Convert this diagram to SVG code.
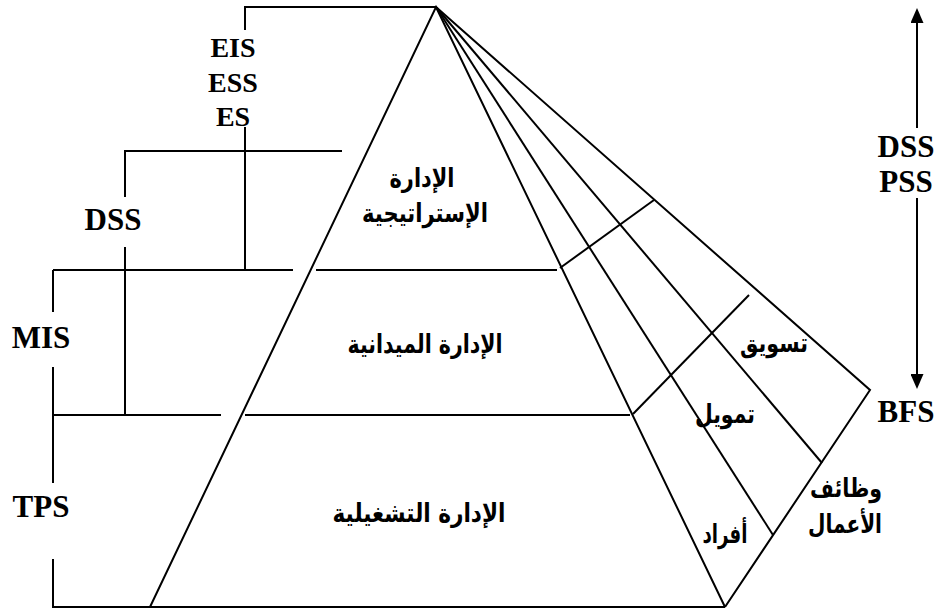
<svg xmlns="http://www.w3.org/2000/svg" width="935" height="610" viewBox="0 0 935 610">
  <style>
    .ln { fill: none; stroke: #000; stroke-width: 2; stroke-linecap: butt; stroke-linejoin: miter; }
    .en { font-family: "Liberation Serif", "Times New Roman", serif; font-weight: bold; font-size: 31px; fill: #000; text-anchor: middle; }
    .en.sm { font-size: 28px; }
    .ar { font-family: "DejaVu Sans", "Noto Sans", sans-serif; font-weight: bold; font-size: 26px; fill: #000; text-anchor: middle; direction: rtl; }
  </style>
  <defs>
    <marker id="head" viewBox="0 0 15 13" refX="0" refY="6.5" markerWidth="15" markerHeight="13" markerUnits="userSpaceOnUse" orient="auto">
      <path d="M0,0 L15,6.5 L0,13 z" fill="#000"/>
    </marker>
  </defs>

  <rect width="935" height="610" fill="#fff"/>

  <!-- connectors: brackets grouping the information systems by level -->
  <g id="connectors" class="ln">
    <path d="M245,30 V7 H436"/>
    <path d="M245,127 V270"/>
    <path d="M125,197 V151 H342"/>
    <path d="M125,247 V415"/>
    <path d="M53,270 H293 M316,270 H557"/>
    <path d="M53,415 H221 M245,415 H630"/>
    <path d="M53,270 V312 M53,367 V483 M53,559 V607 H725"/>
  </g>

  <!-- management pyramid -->
  <g id="pyramid" class="ln">
    <path d="M150,607 L436,7 L725,607"/>
  </g>

  <!-- business functions fanning out from the apex -->
  <g id="functions" class="ln">
    <path d="M436,7 L773,535"/>
    <path d="M436,7 L822,463"/>
    <path d="M436,7 L870,390 L725,607"/>
    <path d="M560,268 L654,200"/>
    <path d="M633,414 L749,295"/>
  </g>

  <!-- vertical axis DSS/PSS to BFS -->
  <g id="axis" class="ln">
    <path d="M917,128 V23" marker-end="url(#head)"/>
    <path d="M917,198 V374" marker-end="url(#head)"/>
  </g>

  <g id="level-strategic">
    <text class="ar" x="422" y="187" textLength="65" lengthAdjust="spacingAndGlyphs">الإدارة</text>
    <text class="ar" x="425" y="222" textLength="126" lengthAdjust="spacingAndGlyphs">الإستراتيجية</text>
  </g>
  <g id="level-tactical">
    <text class="ar" x="425" y="353" textLength="155" lengthAdjust="spacingAndGlyphs">الإدارة الميدانية</text>
  </g>
  <g id="level-operational">
    <text class="ar" x="419" y="522" textLength="173" lengthAdjust="spacingAndGlyphs">الإدارة التشغيلية</text>
  </g>

  <g id="fn-marketing"><text class="ar" x="774" y="352" textLength="68" lengthAdjust="spacingAndGlyphs">تسويق</text></g>
  <g id="fn-finance"><text class="ar" x="725" y="423" textLength="60" lengthAdjust="spacingAndGlyphs">تمويل</text></g>
  <g id="fn-hr"><text class="ar" x="725" y="543" textLength="45" lengthAdjust="spacingAndGlyphs">أفراد</text></g>
  <g id="fn-business">
    <text class="ar" x="846" y="497" textLength="72" lengthAdjust="spacingAndGlyphs">وظائف</text>
    <text class="ar" x="845" y="533" textLength="74" lengthAdjust="spacingAndGlyphs">الأعمال</text>
  </g>

  <g id="sys-exec">
    <text class="en sm" x="233" y="57">EIS</text>
    <text class="en sm" x="233" y="92">ESS</text>
    <text class="en sm" x="233" y="126">ES</text>
  </g>
  <g id="sys-dss"><text class="en" x="113" y="230">DSS</text></g>
  <g id="sys-mis"><text class="en" x="41" y="348">MIS</text></g>
  <g id="sys-tps"><text class="en" x="41" y="517">TPS</text></g>
  <g id="axis-top">
    <text class="en" x="906" y="157">DSS</text>
    <text class="en" x="906" y="192">PSS</text>
  </g>
  <g id="axis-bottom"><text class="en" x="906" y="422">BFS</text></g>
</svg>
